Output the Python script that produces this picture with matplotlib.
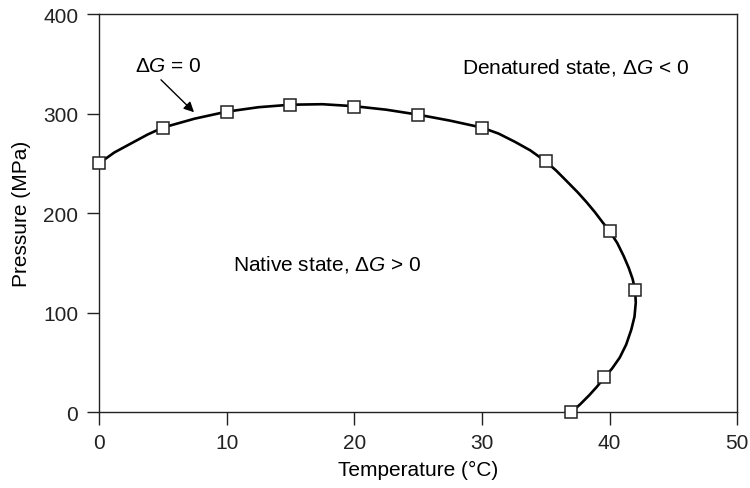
import matplotlib
matplotlib.use("Agg")
from matplotlib import pyplot as plt

plt.rcParams['font.family'] = ['Liberation Sans', 'DejaVu Sans']
plt.rcParams['mathtext.fontset'] = 'custom'
plt.rcParams['mathtext.rm'] = 'Liberation Sans'
plt.rcParams['mathtext.it'] = 'Liberation Sans:italic'

# measured points (temperature in C, pressure in MPa)
temp = [0, 5, 10, 15, 20, 25, 30, 35, 40, 42, 39.6, 37]
pres = [250, 286, 302, 309, 307, 299, 286, 252, 182, 123, 35, 0]

# fitted curve
curve_t = [0, 1.2, 2.5, 3.8, 5, 7.5, 10, 12.5, 15, 17.5, 20, 22.5, 25, 27.5, 30, 31.3, 32.6, 33.8, 35,
           35.8, 36.5, 37.5, 38.2, 38.85, 39.5, 40, 40.6, 41.1, 41.5, 41.8, 42, 42.05, 41.95, 41.7,
           41.3, 40.8, 40.2, 39.6, 39.0, 38.4, 37.7, 37]
curve_p = [250, 261, 270, 279, 286, 295, 302, 306.5, 309, 309.5, 307.5, 304, 299, 293, 286, 280, 271.6, 263, 252,
           243, 234, 221, 211, 201, 190, 182, 170, 157, 145, 134, 123, 110, 96, 83,
           68, 55, 44, 35, 25.5, 17, 8, 0]

xticks = [0, 10, 20, 30, 40, 50]
yticks = [0, 100, 200, 300, 400]

fig = plt.figure(figsize=(7.5, 4.89), dpi=100)
ax = fig.add_axes([0.132, 0.155, 0.851, 0.814])

ax.plot(curve_t, curve_p, color='black', lw=1.9, zorder=2, solid_joinstyle='round')
ax.plot(temp, pres, ls='none', marker='s', ms=9, mfc='white', mec='#222222', mew=1.1,
        zorder=3, clip_on=False)

ax.set_xlim(0, 50)
ax.set_ylim(0, 400)
ax.set_xticks(xticks)
ax.set_yticks(yticks)
ax.tick_params(direction='out', length=9, width=1, pad=6, labelsize=15, colors='#222222')
for s in ax.spines.values():
    s.set_linewidth(1)
    s.set_color('#222222')

ax.set_xlabel('Temperature (°C)', fontsize=15, labelpad=6)
ax.set_ylabel('Pressure (MPa)', fontsize=15, labelpad=9)

ax.text(5.4, 348, 'Δ$G$ = 0', fontsize=15, ha='center', va='center')
ax.annotate('', xy=(7.6, 299.5), xytext=(4.7, 336),
            arrowprops=dict(arrowstyle='-|>', color='black', lw=1, mutation_scale=15))
ax.text(28.45, 347, 'Denatured state, Δ$G$ < 0', fontsize=15, ha='left', va='center')
ax.text(10.5, 149, 'Native state, Δ$G$ > 0', fontsize=15, ha='left', va='center')

fig.savefig('out.png', dpi=100)
